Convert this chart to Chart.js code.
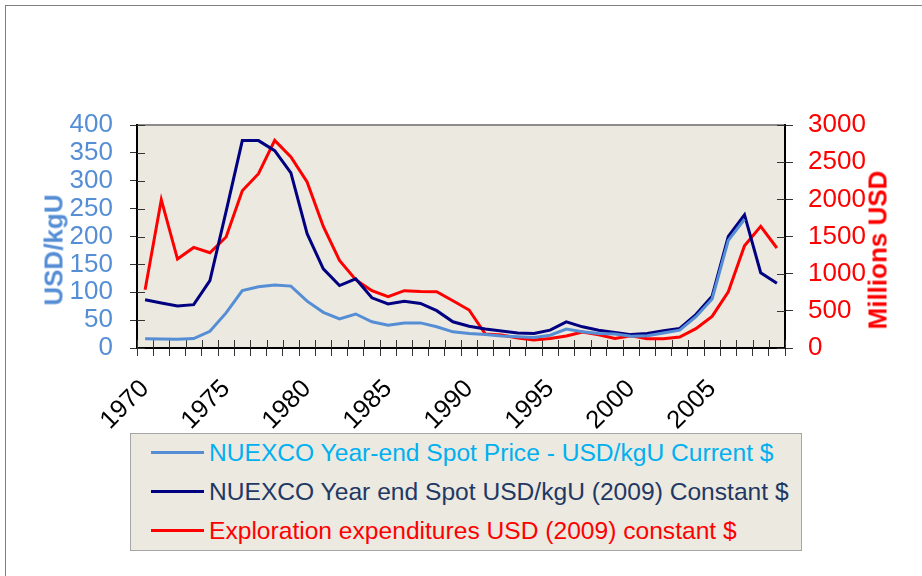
<!DOCTYPE html>
<html>
<head>
<meta charset="utf-8">
<script src="https://cdn.jsdelivr.net/npm/chart.js@4.4.1/dist/chart.umd.min.js"></script>
<style>
  body { margin: 0; background: #fff; font-family: "Liberation Sans", Arial, sans-serif; }
  #wrap { position: relative; width: 922px; height: 576px; overflow: hidden; }
  #frame { position: absolute; left: 5px; top: 5px; width: 1000px; height: 1000px; border: 1px solid #7f7f7f; }
  canvas { position: absolute; left: 0; top: 0; }
  .axisTitle { position: absolute; font-weight: bold; font-size: 26px; white-space: nowrap; transform: translate(-50%, -50%) rotate(-90deg); }
  #legend { position: absolute; left: 130px; top: 433px; width: 670px; height: 116px; background: #ECE9E0; border: 1px solid #a6a6a6; }
  .item { position: absolute; left: 20px; height: 30px; font-size: 24.6px; white-space: nowrap; }
  .item span.swatch { position: absolute; left: 0; top: 13px; width: 53px; height: 3px; }
  .item span.txt { position: absolute; left: 58px; top: 0; line-height: 30px; }
</style>
</head>
<body>
<div id="wrap">
  <div id="frame"></div>
  <canvas id="grafica" width="922" height="576"></canvas>
  <div class="axisTitle" style="left:54px; top:250px; color:#558ED5;">USD/kgU</div>
  <div class="axisTitle" style="left:878px; top:250px; color:#FF0000;">Millions USD</div>
  <div id="legend"></div>
</div>
<script>
const anios = [];
for (let a = 1970; a <= 2009; a++) anios.push(a);

const precioCorriente = [16.7, 16, 15.5, 17, 30, 63, 103, 110, 113, 111,
  84, 64, 52, 61, 47, 41, 45, 45, 38, 29,
  26, 24, 21.5, 20, 19, 23, 34, 29, 26, 25,
  21, 22, 27, 32, 56, 88, 193, 231, null, null];

const precioConstante = [86.6, 80.7, 75.3, 77.7, 120.7, 245, 372, 372, 354, 314,
  205, 142, 112, 124, 90, 79, 84, 80, 67, 47,
  39, 34, 30.5, 27, 26, 32, 47, 38, 32, 28,
  24, 26, 31, 35, 60, 93, 200, 239, 135, 116];

const exploracion = [784, 1995, 1197, 1353, 1282, 1493, 2116, 2345, 2793, 2569,
  2233, 1636, 1178, 919, 771, 690, 771, 760, 757, 636,
  511, 188, 175, 134, 107, 129, 161, 215, 179, 129,
  165, 125, 125, 148, 260, 425, 757, 1376, 1636, 1345];

const ticksIzq = [0, 50, 100, 150, 200, 250, 300, 350, 400];
const ticksDer = [0, 500, 1000, 1500, 2000, 2500, 3000];

const series = [
  { label: "NUEXCO Year-end Spot Price - USD/kgU Current $", data: precioCorriente, color: "#558ED5", texto: "#00B0F0", eje: "y" },
  { label: "NUEXCO Year end Spot USD/kgU (2009) Constant $", data: precioConstante, color: "#000080", texto: "#1F3864", eje: "y" },
  { label: "Exploration expenditures USD (2009) constant $", data: exploracion, color: "#FF0000", texto: "#FF0000", eje: "y2" },
];

// fondo del area y marcas hacia dentro
const fondoPlot = {
  id: "fondoPlot",
  beforeDraw(chart) {
    const { ctx, chartArea: a } = chart;
    ctx.save();
    ctx.fillStyle = "#ECE9E0";
    ctx.fillRect(a.left, a.top, a.right - a.left, a.bottom - a.top);
    ctx.strokeStyle = "#8c8c8c";
    ctx.lineWidth = 2;
    ctx.beginPath();
    ctx.moveTo(a.left, a.top);
    ctx.lineTo(a.right, a.top);
    ctx.stroke();
    ctx.restore();
  },
  beforeDatasetsDraw(chart) {
    const { ctx, chartArea: a, scales } = chart;
    ctx.save();
    ctx.strokeStyle = "#333";
    ctx.lineWidth = 1;
    ctx.beginPath();
    scales.y.ticks.forEach((t, i) => {
      const py = Math.round(scales.y.getPixelForTick(i)) + 0.5;
      ctx.moveTo(a.left, py); ctx.lineTo(a.left + 8, py);
    });
    scales.y2.ticks.forEach((t, i) => {
      const py = Math.round(scales.y2.getPixelForTick(i)) + 0.5;
      ctx.moveTo(a.right - 8, py); ctx.lineTo(a.right, py);
    });
    const n = scales.x.ticks.length;
    for (let i = 0; i <= n; i++) {
      const px = Math.round(scales.x.getPixelForValue(i - 0.5)) + 0.5;
      ctx.moveTo(px, a.bottom - 8); ctx.lineTo(px, a.bottom);
    }
    ctx.stroke();
    ctx.restore();
  },
};

const canvas = document.getElementById("grafica");

new Chart(canvas, {
  type: "line",
  data: {
    labels: anios,
    datasets: series.map((s) => ({
      label: s.label,
      data: s.data,
      borderColor: s.color,
      backgroundColor: s.color,
      borderWidth: 3,
      pointRadius: 0,
      tension: 0,
      yAxisID: s.eje,
    })),
  },
  options: {
    responsive: false,
    animation: false,
    layout: { padding: { top: 125, left: 0, right: 0, bottom: 0 } },
    plugins: {
      legend: { display: false },
      tooltip: { enabled: false },
    },
    scales: {
      x: {
        type: "category",
        offset: true,
        grid: { offset: true, drawOnChartArea: false, drawTicks: true, tickLength: 8, color: "#333" },
        border: { color: "#000", width: 2 },
        ticks: {
          autoSkip: false,
          maxRotation: 45,
          minRotation: 45,
          padding: 18,
          color: "#000",
          font: { family: "Liberation Sans", size: 25.5 },
          callback: (v, i) => (anios[i] % 5 === 0 ? String(anios[i]) : ""),
        },
        afterFit: (scale) => { scale.height = 228; },
      },
      y: {
        position: "left",
        min: 0,
        max: 400,
        grid: { drawOnChartArea: false, drawTicks: true, tickLength: 7, color: "#333" },
        border: { color: "#000", width: 2 },
        ticks: {
          autoSkip: false,
          padding: 17,
          color: "#558ED5",
          font: { family: "Liberation Sans", size: 26 },
          callback: (v) => String(v),
        },
        afterBuildTicks: (scale) => { scale.ticks = ticksIzq.map((v) => ({ value: v })); },
        afterFit: (scale) => { scale.width = 137; },
      },
      y2: {
        position: "right",
        min: 0,
        max: 3000,
        grid: { drawOnChartArea: false, drawTicks: true, tickLength: 8, color: "#333" },
        border: { color: "#000", width: 2 },
        ticks: {
          autoSkip: false,
          padding: 15,
          color: "#FF0000",
          font: { family: "Liberation Sans", size: 26 },
          callback: (v) => String(v),
        },
        afterBuildTicks: (scale) => { scale.ticks = ticksDer.map((v) => ({ value: v })); },
        afterFit: (scale) => { scale.width = 137; },
      },
    },
  },
  plugins: [fondoPlot],
});

// leyenda
const leyenda = document.getElementById("legend");
series.forEach((s, i) => {
  const item = document.createElement("div");
  item.className = "item";
  item.style.top = (4 + i * 39) + "px";
  const sw = document.createElement("span");
  sw.className = "swatch";
  sw.style.background = s.color;
  const tx = document.createElement("span");
  tx.className = "txt";
  tx.style.color = s.texto;
  tx.innerText = s.label;
  item.appendChild(sw);
  item.appendChild(tx);
  leyenda.appendChild(item);
});
</script>
</body>
</html>
